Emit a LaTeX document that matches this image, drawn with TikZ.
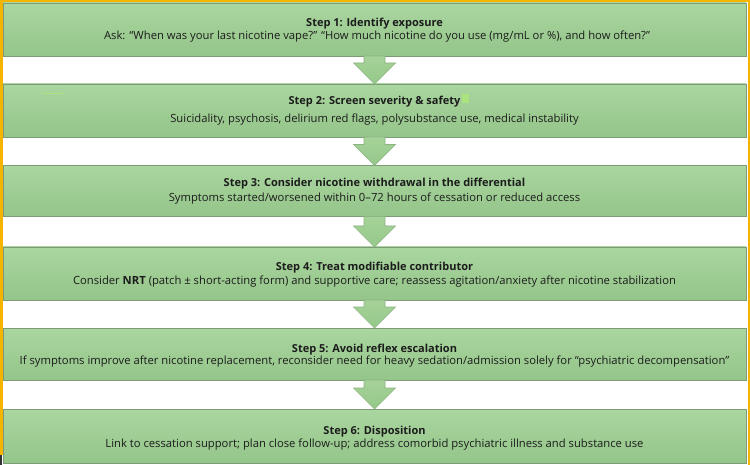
\documentclass[tikz,border=0pt]{standalone}
\usepackage{fontspec}
\setmainfont{Open Sans}
\usetikzlibrary{calc}
\definecolor{boxtop}{RGB}{170,214,160}
\definecolor{boxbot}{RGB}{148,197,137}
\definecolor{boxline}{RGB}{125,155,118}
\definecolor{arrtop}{RGB}{165,210,152}
\definecolor{arrbot}{RGB}{150,200,138}
\definecolor{arrline}{RGB}{140,180,130}
\definecolor{framecol}{RGB}{244,180,0}
\definecolor{txt}{RGB}{28,28,28}
\definecolor{markgreen}{RGB}{170,228,125}
\begin{document}
\begin{tikzpicture}[x=1pt,y=-1pt,
  stepbox/.style={rectangle, draw=boxline, line width=0.8pt, top color=boxtop, bottom color=boxbot,
    minimum width=743pt, inner sep=0pt, outer sep=0pt},
  titletxt/.style={anchor=base, inner sep=0pt, text=txt, font=\fontsize{11}{13}\selectfont\bfseries},
  bodytxt/.style={anchor=base, inner sep=0pt, text=txt, font=\fontsize{11.25}{13}\selectfont},
  blockarrow/.style={draw=arrline, line width=0.6pt, top color=arrtop, bottom color=arrbot}]
\useasboundingbox (0,0) rectangle (750,465);
\fill[white] (0,0) rectangle (750,465);
% boxes
\node[stepbox, minimum height=53pt] (s1) at (374.5,29.5) {};
\node[stepbox, minimum height=53pt] (s2) at (374.5,110.5) {};
\node[stepbox, minimum height=51pt] (s3) at (374.5,191) {};
\node[stepbox, minimum height=53pt] (s4) at (374.5,273.5) {};
\node[stepbox, minimum height=52pt] (s5) at (374.5,354) {};
\node[stepbox, minimum height=54pt] (s6) at (374.5,436) {};
% arrows
\foreach \a/\b in {s1/s2,s2/s3,s3/s4,s4/s5,s5/s6}{
  \path[blockarrow] ($(\a.south)+(-10.5,0)$) -- ($(\b.north)+(-10.5,-21)$) -- ($(\b.north)+(-21,-21)$)
    -- (\b.north) -- ($(\b.north)+(21,-21)$) -- ($(\b.north)+(10.5,-21)$) -- ($(\a.south)+(10.5,0)$) -- cycle;
}
% texts
\node[titletxt] (t1) at (374.5,26.5) {Step 1: Identify exposure};
\node[bodytxt] (b1) at (377,39.5) {Ask: “When was your last nicotine vape?” “How much nicotine do you use (mg/mL or \%), and how often?”};
\node[titletxt] (t2) at (374.5,105) {Step 2: Screen severity \& safety};
\node[bodytxt] (b2) at (374.5,122.5) {Suicidality, psychosis, delirium red flags, polysubstance use, medical instability};
\node[titletxt] (t3) at (374.5,187) {Step 3: Consider nicotine withdrawal in the differential};
\node[bodytxt] (b3) at (374.5,202) {Symptoms started/worsened within 0–72 hours of cessation or reduced access};
\node[titletxt] (t4) at (374.5,271) {Step 4: Treat modifiable contributor};
\node[bodytxt] (b4) at (374.5,284) {Consider \textbf{NRT} (patch ± short-acting form) and supportive care; reassess agitation/anxiety after nicotine stabilization};
\node[titletxt] (t5) at (374.5,352) {Step 5: Avoid reflex escalation};
\node[bodytxt] (b5) at (374.5,364) {If symptoms improve after nicotine replacement, reconsider need for heavy sedation/admission solely for “psychiatric decompensation”};
\node[titletxt] (t6) at (374.5,434) {Step 6: Disposition};
\node[bodytxt] (b6) at (374.5,447) {Link to cessation support; plan close follow-up; address comorbid psychiatric illness and substance use};
% small marks
\fill[markgreen] ($(t2.east)+(1.5,-8)$) rectangle ++(7,8.5);
\draw[markgreen, line width=1pt] (42,94) -- (63,94);
% frame
\fill[framecol] (0,0) rectangle (750,2.5);
\fill[framecol] (0,0) rectangle (2.5,455);
\fill[black!80] (0,455) rectangle (2,465);
\fill[framecol] (747.5,0) rectangle (750,465);
\end{tikzpicture}
\end{document}
